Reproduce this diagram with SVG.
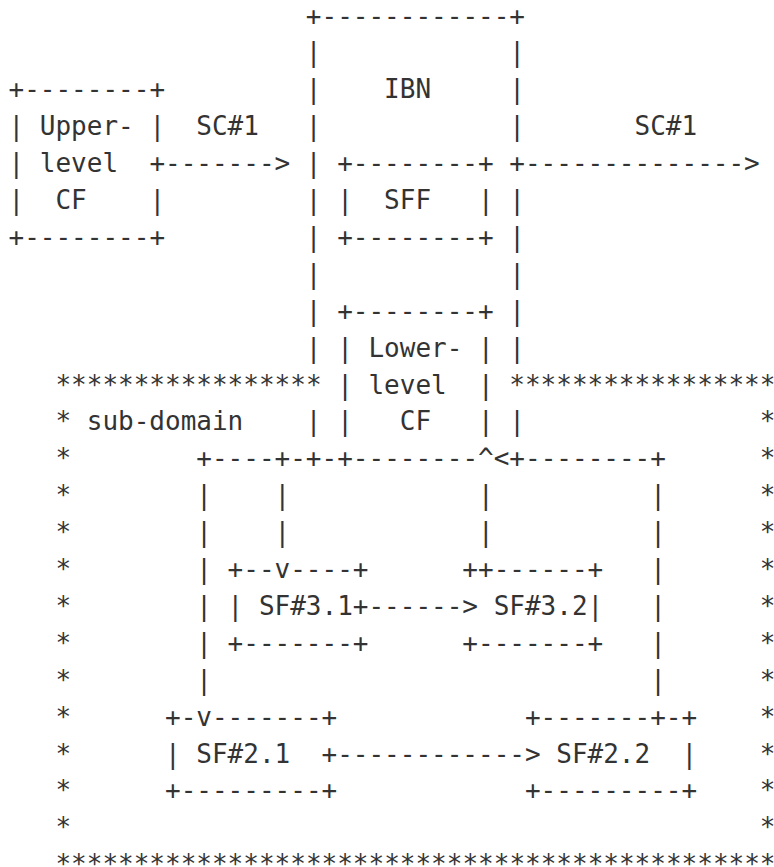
<svg xmlns="http://www.w3.org/2000/svg" width="774" height="867" viewBox="0 0 774 867" xml:space="preserve">
<style>
text{font-family:"DejaVu Sans Mono","Liberation Mono",monospace;font-size:26px;fill:#333;white-space:pre}
</style>
<rect width="774" height="867" fill="#fff"/>
<g id="upper-cf">
<text x="8.5" y="98.3">+--------+</text>
<text x="8.5" y="135.2">| Upper- |</text>
<text x="8.5" y="172.1">| level  +</text>
<text x="8.5" y="209">|  CF    |</text>
<text x="8.5" y="245.9">+--------+</text>
</g>
<g id="ibn">
<text x="305.85" y="24.5">+------------+</text>
<text x="305.85" y="61.4">|            |</text>
<text x="305.85" y="98.3">|    IBN     |</text>
<text x="305.85" y="135.2">|            |</text>
<text x="305.85" y="172.1">|</text>
<text x="305.85" y="209">|</text><text x="509.3" y="209">|</text>
<text x="305.85" y="245.9">|</text><text x="509.3" y="245.9">|</text>
<text x="305.85" y="282.8">|            |</text>
<text x="305.85" y="319.7">|</text><text x="509.3" y="319.7">|</text>
<text x="305.85" y="356.6">|</text><text x="509.3" y="356.6">|</text>
<text x="305.85" y="430.4">|</text><text x="509.3" y="430.4">|</text>
</g>
<g id="sff">
<text x="337.15" y="172.1">+--------+</text>
<text x="337.15" y="209">|  SFF   |</text>
<text x="337.15" y="245.9">+--------+</text>
</g>
<g id="lower-cf">
<text x="337.15" y="319.7">+--------+</text>
<text x="337.15" y="356.6">| Lower- |</text>
<text x="337.15" y="393.5">| level  |</text>
<text x="337.15" y="430.4">|   CF   |</text>
</g>
<g id="sub-domain">
<text x="55.45" y="393.5">*****************</text>
<text x="509.3" y="393.5">*****************</text>
<text x="55.45" y="430.4">* sub-domain</text><text x="759.7" y="430.4">*</text>
<text x="55.45" y="467.3">*</text><text x="759.7" y="467.3">*</text>
<text x="55.45" y="504.2">*</text><text x="759.7" y="504.2">*</text>
<text x="55.45" y="541.1">*</text><text x="759.7" y="541.1">*</text>
<text x="55.45" y="578">*</text><text x="759.7" y="578">*</text>
<text x="55.45" y="614.9">*</text><text x="759.7" y="614.9">*</text>
<text x="55.45" y="651.8">*</text><text x="759.7" y="651.8">*</text>
<text x="55.45" y="688.7">*</text><text x="759.7" y="688.7">*</text>
<text x="55.45" y="725.6">*</text><text x="759.7" y="725.6">*</text>
<text x="55.45" y="762.5">*</text><text x="759.7" y="762.5">*</text>
<text x="55.45" y="799.4">*</text><text x="759.7" y="799.4">*</text>
<text x="55.45" y="836.3">*</text><text x="759.7" y="836.3">*</text>
<text x="55.45" y="873.2">**********************************************</text>
</g>
<g id="sf-3-1">
<text x="227.6" y="578">+--v----+</text>
<text x="227.6" y="614.9">| SF#3.1+</text>
<text x="227.6" y="651.8">+-------+</text>
</g>
<g id="sf-3-2">
<text x="462.35" y="578">++------+</text>
<text x="493.65" y="614.9">SF#3.2|</text>
<text x="462.35" y="651.8">+-------+</text>
</g>
<g id="sf-2-1">
<text x="165" y="725.6">+-v-------+</text>
<text x="165" y="762.5">| SF#2.1  +</text>
<text x="165" y="799.4">+---------+</text>
</g>
<g id="sf-2-2">
<text x="524.95" y="725.6">+-------+-+</text>
<text x="556.25" y="762.5">SF#2.2  |</text>
<text x="524.95" y="799.4">+---------+</text>
</g>
<g id="connectors">
<text x="196.3" y="135.2">SC#1</text>
<text x="634.5" y="135.2">SC#1</text>
<text x="165" y="172.1">-------&gt;</text>
<text x="509.3" y="172.1">+--------------&gt;</text>
<text x="196.3" y="467.3">+----+-+-+--------^&lt;+--------+</text>
<text x="196.3" y="504.2">|</text><text x="274.55" y="504.2">|</text><text x="478" y="504.2">|</text><text x="650.15" y="504.2">|</text>
<text x="196.3" y="541.1">|</text><text x="274.55" y="541.1">|</text><text x="478" y="541.1">|</text><text x="650.15" y="541.1">|</text>
<text x="196.3" y="578">|</text><text x="650.15" y="578">|</text>
<text x="196.3" y="614.9">|</text><text x="368.45" y="614.9">------&gt;</text><text x="650.15" y="614.9">|</text>
<text x="196.3" y="651.8">|</text><text x="650.15" y="651.8">|</text>
<text x="196.3" y="688.7">|</text><text x="650.15" y="688.7">|</text>
<text x="337.15" y="762.5">------------&gt;</text>
</g>
</svg>
